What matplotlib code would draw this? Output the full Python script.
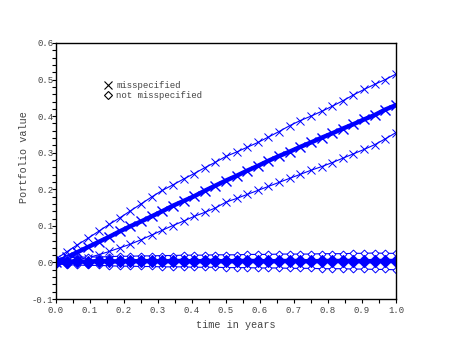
import numpy as np
import matplotlib
matplotlib.use('Agg')
from matplotlib import pyplot as plt
from matplotlib.lines import Line2D
from matplotlib.ticker import MultipleLocator, FormatStrFormatter

plt.rcParams['font.family'] = ['Liberation Mono', 'DejaVu Sans Mono']

# time grid (33 points on [0,1])
t = np.arange(33) / 32.0

# misspecified: mean and band
mis_mean = [0.000, 0.014, 0.028, 0.042, 0.056, 0.070, 0.085, 0.099, 0.112, 0.126, 0.140,
            0.155, 0.168, 0.181, 0.196, 0.210, 0.224, 0.237, 0.251, 0.264, 0.278, 0.291,
            0.303, 0.316, 0.328, 0.341, 0.353, 0.366, 0.378, 0.391, 0.403, 0.418, 0.430]
mis_up = [0.010, 0.029, 0.048, 0.066, 0.085, 0.104, 0.122, 0.141, 0.160, 0.179, 0.197,
          0.212, 0.228, 0.243, 0.259, 0.274, 0.290, 0.302, 0.315, 0.328, 0.343, 0.358,
          0.374, 0.388, 0.400, 0.413, 0.427, 0.442, 0.458, 0.473, 0.487, 0.500, 0.515]
mis_lo = [0.000, 0.003, 0.008, 0.013, 0.021, 0.030, 0.040, 0.050, 0.062, 0.075, 0.088,
          0.101, 0.113, 0.126, 0.137, 0.149, 0.165, 0.175, 0.186, 0.197, 0.208, 0.219,
          0.230, 0.241, 0.252, 0.262, 0.273, 0.285, 0.297, 0.309, 0.322, 0.338, 0.355]

# not misspecified: mean and band
ok_mean = [0.000, 0.002, 0.003, 0.002, 0.004, 0.003, 0.003, 0.004, 0.003, 0.004, 0.003,
           0.004, 0.004, 0.003, 0.004, 0.004, 0.003, 0.004, 0.004, 0.004, 0.003, 0.004,
           0.004, 0.004, 0.003, 0.004, 0.004, 0.004, 0.004, 0.003, 0.004, 0.004, 0.004]
ok_up = [0.010, 0.013, 0.014, 0.015, 0.015, 0.016, 0.017, 0.017, 0.018, 0.018, 0.019,
         0.019, 0.020, 0.020, 0.020, 0.021, 0.021, 0.021, 0.022, 0.022, 0.022, 0.023,
         0.023, 0.023, 0.023, 0.024, 0.024, 0.024, 0.025, 0.025, 0.026, 0.025, 0.025]
ok_lo = [-0.004, -0.006, -0.007, -0.008, -0.008, -0.009, -0.010, -0.010, -0.011, -0.011, -0.012,
         -0.012, -0.012, -0.013, -0.013, -0.013, -0.014, -0.014, -0.014, -0.015, -0.015, -0.015,
         -0.016, -0.016, -0.016, -0.017, -0.017, -0.017, -0.018, -0.018, -0.019, -0.019, -0.020]

blue = '#0000ff'
txt = '#444444'

fig = plt.figure(figsize=(4.52, 3.41), dpi=100)
ax = fig.add_axes([0.124, 0.123, 0.752, 0.751])

ax.plot(t, mis_up, color=blue, lw=0.8, marker='x', ms=5.5, mew=0.7)
ax.plot(t, mis_lo, color=blue, lw=0.8, marker='x', ms=5.5, mew=0.7)
ax.plot(t, mis_mean, color=blue, lw=3.2, marker='x', ms=6.5, mew=1.0)

ax.plot(t, ok_up, color=blue, lw=0.8, marker='D', ms=3.5, mfc='white', mew=0.7)
ax.plot(t, ok_lo, color=blue, lw=0.8, marker='D', ms=3.5, mfc='white', mew=0.7)
ax.plot(t, ok_mean, color=blue, lw=3.2, marker='D', ms=6.5, mew=0.8)

ax.set_xlim(0, 1)
ax.set_ylim(-0.1, 0.6)
ax.xaxis.set_major_locator(MultipleLocator(0.1))
ax.xaxis.set_minor_locator(MultipleLocator(0.05))
ax.yaxis.set_major_locator(MultipleLocator(0.1))
ax.yaxis.set_minor_locator(MultipleLocator(0.02))
ax.xaxis.set_major_formatter(FormatStrFormatter('%.1f'))
ax.yaxis.set_major_formatter(FormatStrFormatter('%.1f'))
ax.tick_params(which='both', direction='out', length=3, width=0.8, labelsize=6.5,
               labelcolor=txt)
ax.tick_params(axis='y', pad=-1)
ax.tick_params(axis='x', pad=2)
for s in ax.spines.values():
    s.set_linewidth(1.0)

ax.set_xlabel('time in years', fontsize=7.3, color=txt)
ax.set_ylabel('Portfolio value', fontsize=7.3, color=txt)
ax.xaxis.set_label_coords(0.53, -0.08)
ax.yaxis.set_label_coords(-0.08, 0.555)

handles = [Line2D([], [], color='black', ls='none', marker='x', ms=5.5, mew=0.8),
           Line2D([], [], color='black', ls='none', marker='D', ms=4, mfc='white', mew=0.8)]
ax.legend(handles, ['misspecified', 'not misspecified'], loc='upper left',
          bbox_to_anchor=(0.129, 0.869), frameon=False, fontsize=6.5,
          handlelength=0.8, handletextpad=0.5, labelspacing=0.1, borderpad=0,
          labelcolor=txt)

plt.savefig('out.png', dpi=100)
